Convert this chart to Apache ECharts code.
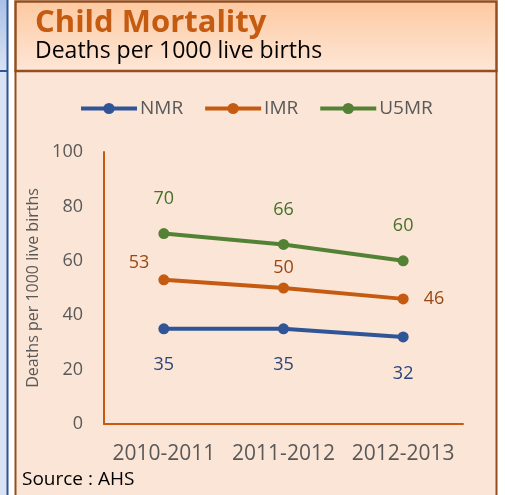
<!DOCTYPE html>
<html>
<head>
<meta charset="utf-8">
<script src="https://cdn.jsdelivr.net/npm/echarts@6/dist/echarts.min.js"></script>
<style>
  html, body { margin: 0; padding: 0; background: #ffffff; }
  #main { width: 505px; height: 495px; }
</style>
</head>
<body>
<div id="main"></div>
<script>
// chart data
var periods = ['2010-2011', '2011-2012', '2012-2013'];
var nmr = [35, 35, 32];
var imr = [53, 50, 46];
var u5mr = [70, 66, 60];
var yTicks = [0, 20, 40, 60, 80, 100];

var FONT = '"Open Sans", sans-serif';
var chart = echarts.init(document.getElementById('main'));

// IMR labels sit left / top / right of the points
var imrLabelPos = [
  { position: 'left', offset: [-4, -17] },
  { position: 'top', distance: 6 },
  { position: 'right', offset: [10, 0] }
];

var option = {
  textStyle: { fontFamily: FONT },
  title: {
    text: 'Child Mortality',
    subtext: 'Deaths per 1000 live births',
    left: 30,
    top: 3,
    itemGap: 1,
    textStyle: { color: '#c55a11', fontSize: 31, fontWeight: 'bold', fontFamily: FONT },
    subtextStyle: { color: '#000000', fontSize: 23, fontFamily: FONT }
  },
  graphic: [
    // neighbour panel strip on the left
    { type: 'rect', z: -10, shape: { x: 0, y: 0, width: 7, height: 495 }, style: { fill: '#dae3f3' } },
    { type: 'rect', z: -9, shape: { x: 0, y: 0, width: 7, height: 71 },
      style: { fill: new echarts.graphic.LinearGradient(0, 0, 0, 1, [
        { offset: 0, color: '#a9c0e6' }, { offset: 1, color: '#dae3f3' }]) } },
    { type: 'line', z: -8, shape: { x1: 7.5, y1: 0, x2: 7.5, y2: 495 }, style: { stroke: '#2f5597', lineWidth: 2 } },
    { type: 'line', z: -8, shape: { x1: 0, y1: 71, x2: 7, y2: 71 }, style: { stroke: '#2f5597', lineWidth: 2 } },
    // main panel
    { type: 'rect', z: -7, shape: { x: 15.5, y: 71, width: 481, height: 430 },
      style: { fill: '#fbe5d6', stroke: '#954f1f', lineWidth: 2 } },
    // title box
    { type: 'rect', z: -6, shape: { x: 15.5, y: 1.5, width: 481, height: 69.5 },
      style: { fill: new echarts.graphic.LinearGradient(0, 0, 0, 1, [
        { offset: 0, color: '#fdc9a0' }, { offset: 1, color: '#fde7d8' }]),
        stroke: '#954f1f', lineWidth: 2.5 } },
    { type: 'text', left: 22, top: 470,
      style: { text: 'Source : AHS', fill: '#000000', font: '19px ' + FONT } }
  ],
  legend: {
    left: 74,
    top: 94,
    itemWidth: 56,
    itemHeight: 14,
    itemGap: 20,
    lineStyle: { width: 4 },
    textStyle: { color: '#595959', fontSize: 19, fontFamily: FONT, padding: [0, 0, 0, -2] },
    data: ['NMR', 'IMR', 'U5MR']
  },
  grid: { left: 104, right: 42, top: 152, bottom: 71 },
  xAxis: {
    type: 'category',
    data: periods,
    axisLine: { lineStyle: { color: '#c55a11', width: 2 } },
    axisTick: { show: false },
    axisLabel: { color: '#595959', fontSize: 21, margin: 20, interval: 0, fontFamily: FONT }
  },
  yAxis: {
    type: 'value',
    min: yTicks[0],
    max: yTicks[yTicks.length - 1],
    interval: yTicks[1] - yTicks[0],
    name: 'Deaths per 1000 live births',
    nameLocation: 'middle',
    nameGap: 62,
    nameTextStyle: { color: '#595959', fontSize: 16, fontFamily: FONT },
    axisLine: { show: true, lineStyle: { color: '#c55a11', width: 2 } },
    axisTick: { show: false },
    splitLine: { show: false },
    axisLabel: { color: '#595959', fontSize: 18, margin: 21, fontFamily: FONT }
  },
  series: [
    {
      name: 'NMR', type: 'line', data: nmr,
      symbol: 'circle', symbolSize: 11,
      lineStyle: { color: '#2f5597', width: 4 },
      itemStyle: { color: '#2f5597' },
      label: { show: true, position: 'bottom', distance: 22, color: '#2a4478', fontSize: 18, fontFamily: FONT }
    },
    {
      name: 'IMR', type: 'line',
      data: imr.map(function (v, i) { return { value: v, label: imrLabelPos[i] }; }),
      symbol: 'circle', symbolSize: 11,
      lineStyle: { color: '#c55a11', width: 4 },
      itemStyle: { color: '#c55a11' },
      label: { show: true, color: '#9a4612', fontSize: 18, fontFamily: FONT }
    },
    {
      name: 'U5MR', type: 'line', data: u5mr,
      symbol: 'circle', symbolSize: 11,
      lineStyle: { color: '#548235', width: 4 },
      itemStyle: { color: '#548235' },
      label: { show: true, position: 'top', distance: 20, color: '#447028', fontSize: 18, fontFamily: FONT }
    }
  ]
};

chart.setOption(option);
</script>
</body>
</html>
